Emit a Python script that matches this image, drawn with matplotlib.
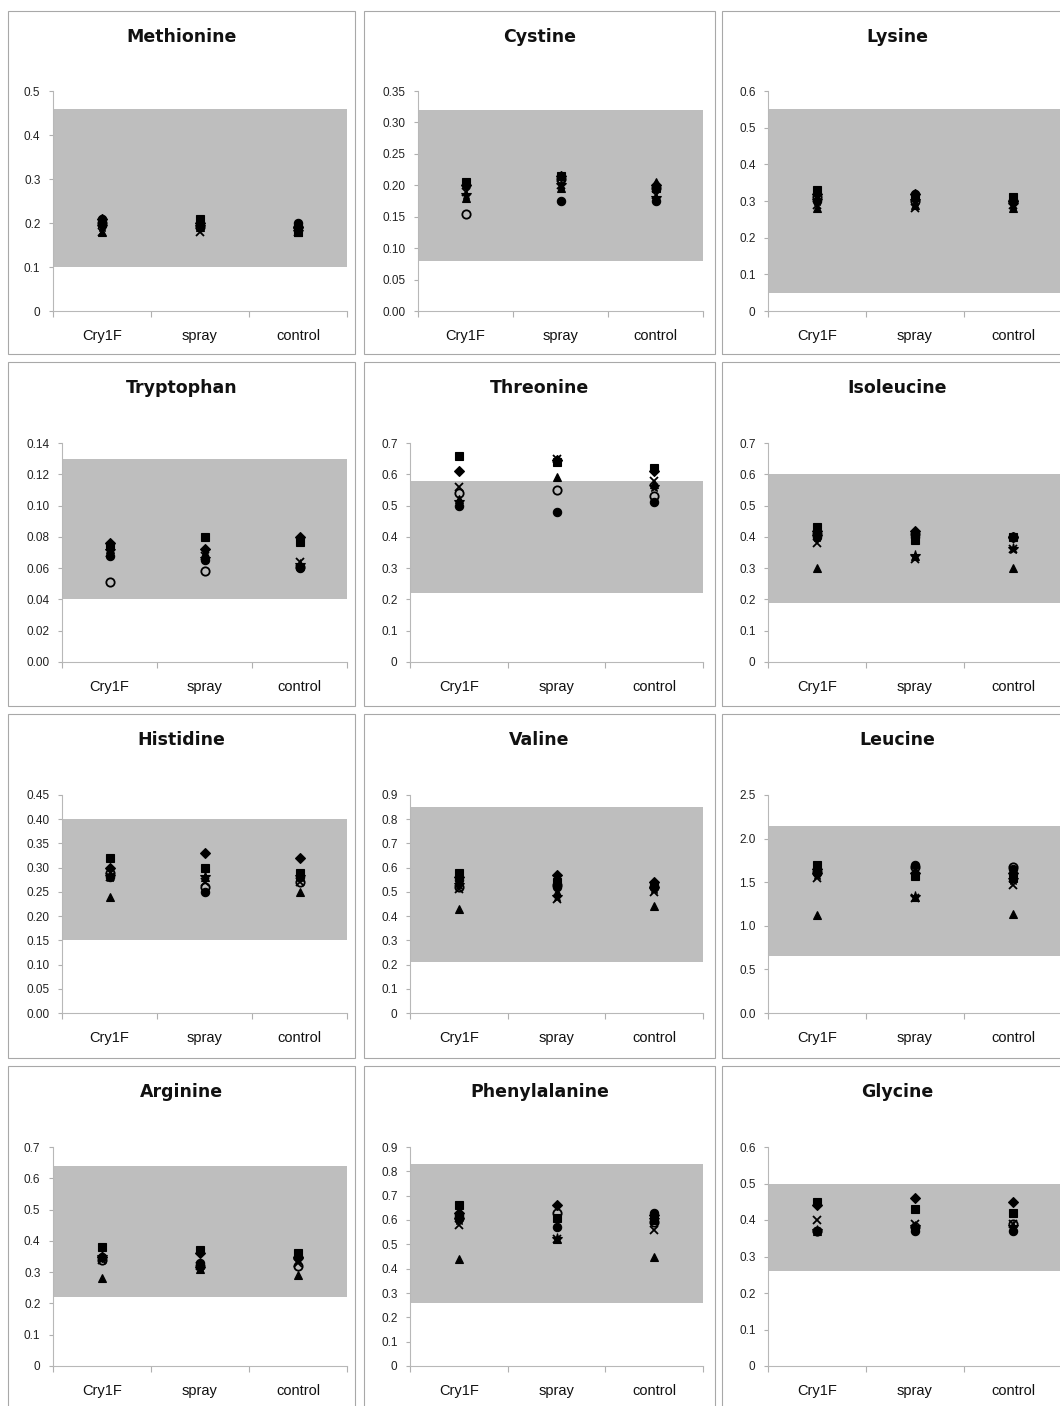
import matplotlib
matplotlib.use("Agg")
import matplotlib.pyplot as plt
from matplotlib.patches import Rectangle

plt.rcParams['font.family'] = ['Liberation Sans', 'DejaVu Sans']

groups = ['Cry1F', 'spray', 'control']

# marker order: diamond, square, triangle, x, star, filled circle, open circle
names = ['Methionine', 'Cystine', 'Lysine',
         'Tryptophan', 'Threonine', 'Isoleucine',
         'Histidine', 'Valine', 'Leucine',
         'Arginine', 'Phenylalanine', 'Glycine']

# axis max, tick step, decimals of tick labels, zero label
ymax = [0.5, 0.35, 0.6, 0.14, 0.7, 0.7, 0.45, 0.9, 2.5, 0.7, 0.9, 0.6]
ystep = [0.1, 0.05, 0.1, 0.02, 0.1, 0.1, 0.05, 0.1, 0.5, 0.1, 0.1, 0.1]
ydec = [1, 2, 1, 2, 1, 1, 2, 1, 1, 1, 1, 1]
zero_lab = ['0', '0.00', '0', '0.00', '0', '0', '0.00', '0', '0.0', '0', '0', '0']

# shaded literature range (low, high)
band_lo = [0.10, 0.08, 0.05, 0.04, 0.22, 0.19, 0.15, 0.21, 0.65, 0.22, 0.26, 0.26]
band_hi = [0.46, 0.32, 0.55, 0.13, 0.58, 0.60, 0.40, 0.85, 2.15, 0.64, 0.83, 0.50]

# values per panel: rows = markers, cols = Cry1F, spray, control
diamond = [[0.21, 0.20, 0.19], [0.20, 0.215, 0.20], [0.32, 0.32, 0.30],
           [0.076, 0.072, 0.080], [0.61, 0.645, 0.61], [0.42, 0.42, 0.40],
           [0.30, 0.33, 0.32], [0.56, 0.57, 0.54], [1.65, 1.60, 1.60],
           [0.35, 0.36, 0.35], [0.63, 0.66, 0.62], [0.44, 0.46, 0.45]]
square = [[0.20, 0.21, 0.18], [0.205, 0.215, 0.195], [0.33, 0.31, 0.31],
          [0.074, 0.080, 0.077], [0.66, 0.64, 0.62], [0.43, 0.39, 0.40],
          [0.32, 0.30, 0.29], [0.58, 0.54, 0.53], [1.70, 1.57, 1.55],
          [0.38, 0.37, 0.36], [0.66, 0.61, 0.60], [0.45, 0.43, 0.42]]
triangle = [[0.18, 0.19, 0.18], [0.18, 0.195, 0.205], [0.28, 0.29, 0.28],
            [0.072, 0.070, 0.078], [0.52, 0.59, 0.57], [0.30, 0.34, 0.30],
            [0.24, 0.28, 0.25], [0.43, 0.50, 0.44], [1.12, 1.33, 1.14],
            [0.28, 0.31, 0.29], [0.44, 0.52, 0.45], [0.37, 0.38, 0.38]]
cross = [[0.18, 0.18, 0.18], [0.19, 0.20, 0.185], [0.29, 0.28, 0.29],
         [0.070, 0.068, 0.064], [0.56, 0.65, 0.58], [0.38, 0.33, 0.36],
         [0.28, 0.27, 0.27], [0.51, 0.47, 0.50], [1.55, 1.32, 1.47],
         [0.34, 0.32, 0.33], [0.58, 0.52, 0.56], [0.40, 0.39, 0.39]]
star = [[0.19, 0.19, 0.18], [0.185, 0.20, 0.18], [0.30, 0.30, 0.29],
        [0.071, 0.066, 0.062], [0.51, 0.64, 0.56], [0.40, 0.34, 0.36],
        [0.28, 0.28, 0.28], [0.53, 0.48, 0.51], [1.58, 1.33, 1.52],
        [0.35, 0.31, 0.34], [0.60, 0.52, 0.60], [0.37, 0.38, 0.38]]
circle = [[0.21, 0.20, 0.20], [0.20, 0.175, 0.175], [0.30, 0.32, 0.30],
          [0.068, 0.065, 0.060], [0.50, 0.48, 0.51], [0.40, 0.40, 0.40],
          [0.28, 0.25, 0.28], [0.55, 0.52, 0.52], [1.60, 1.70, 1.65],
          [0.35, 0.33, 0.35], [0.62, 0.57, 0.63], [0.37, 0.37, 0.37]]
open_circle = [[0.20, 0.19, 0.19], [0.155, 0.21, 0.195], [0.31, 0.30, 0.30],
               [0.051, 0.058, 0.061], [0.54, 0.55, 0.53], [0.41, 0.41, 0.40],
               [0.29, 0.26, 0.27], [0.52, 0.53, 0.52], [1.62, 1.68, 1.68],
               [0.34, 0.32, 0.32], [0.61, 0.63, 0.59], [0.37, 0.38, 0.39]]

series = [(diamond, 'D', 5, 'k'), (square, 's', 5.5, 'k'), (triangle, '^', 6, 'k'),
          (cross, 'x', 6, 'k'), (star, '*', 8, 'k'), (circle, 'o', 6, 'k'),
          (open_circle, 'o', 6, 'none')]

W, H = 1060, 1406
fig = plt.figure(figsize=(W / 100, H / 100), dpi=100)

box_cols = [(8, 355), (364, 715), (722, 1070)]
box_rows = [(11, 354), (362, 706), (714, 1058), (1066, 1415)]
ax_rows = [(91, 311), (443, 662), (795, 1013), (1147, 1366)]
ax_left = [53, 418, 768, 62, 410, 768, 62, 410, 768, 53, 410, 768]
ax_right = [347, 703, 1062]

for i, name in enumerate(names):
    r, c = divmod(i, 3)
    bx0, bx1 = box_cols[c]
    by0, by1 = box_rows[r]
    fig.patches.append(Rectangle((bx0 / W, 1 - by1 / H), (bx1 - bx0) / W, (by1 - by0) / H,
                                 transform=fig.transFigure, fill=False,
                                 edgecolor='#a8a8a8', lw=0.8))
    cx = (bx0 + bx1) / 2 if c < 2 else (bx0 + 1072) / 2
    fig.text(cx / W, 1 - (by0 + 26) / H, name, ha='center', va='center',
             fontsize=12.5, fontweight='bold', family='DejaVu Sans', color='#111111')

    t, b = ax_rows[r]
    l, rr = ax_left[i], ax_right[c]
    ax = fig.add_axes([l / W, 1 - b / H, (rr - l) / W, (b - t) / H])
    ax.set_xlim(0, 3)
    ax.set_ylim(0, ymax[i])
    ax.axhspan(band_lo[i], band_hi[i], color='#bebebe', lw=0, zorder=0)
    for vals, mk, ms, fc in series:
        ax.plot([0.5, 1.5, 2.5], vals[i], ls='none', marker=mk, ms=ms,
                mfc=fc, mec='k', mew=1.3 if (mk == 'x' or fc == 'none') else 0.8,
                zorder=3, clip_on=False)
    n = int(round(ymax[i] / ystep[i]))
    ticks = [k * ystep[i] for k in range(n + 1)]
    labels = [zero_lab[i]] + [f'{v:.{ydec[i]}f}' for v in ticks[1:]]
    ax.set_yticks(ticks)
    ax.set_yticklabels(labels)
    ax.set_xticks([0, 1, 2, 3])
    ax.set_xticklabels([])
    ax.set_xticks([0.5, 1.5, 2.5], minor=True)
    ax.set_xticklabels(groups, minor=True)
    ax.tick_params(axis='x', which='minor', length=0, pad=13, labelsize=10.5,
                   labelcolor='#111111')
    ax.tick_params(axis='x', which='major', length=4, color='#b0b0b0', direction='out')
    ax.tick_params(axis='y', length=3, color='#b0b0b0', labelsize=8.5, pad=6,
                   labelcolor='#222222')
    for s in ['top', 'right']:
        ax.spines[s].set_visible(False)
    for s in ['left', 'bottom']:
        ax.spines[s].set_color('#b8b8b8')
        ax.spines[s].set_linewidth(0.8)
    ax.patch.set_alpha(0)

fig.savefig('out.png', dpi=100)
